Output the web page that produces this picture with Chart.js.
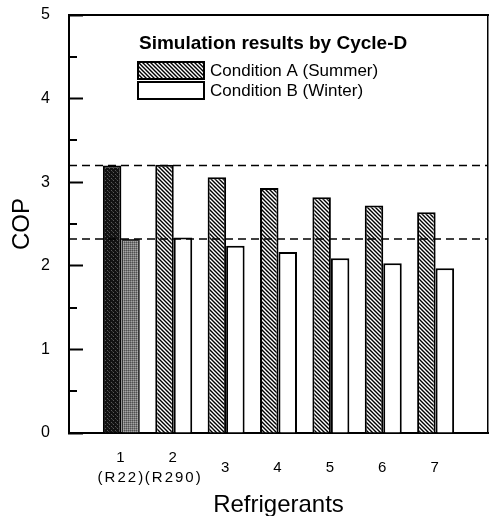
<!DOCTYPE html>
<html><head><meta charset="utf-8">
<script src="https://cdn.jsdelivr.net/npm/chart.js@4"></script>
<style>html,body{margin:0;padding:0;background:#fff}#wrap{width:490px;height:516px}</style>
</head><body><div id="wrap"><canvas id="c" width="490" height="516"></canvas></div>
<script>
// ---- data ----
const categories = ['0', '1', '2', '3', '4', '5', '6', '7', '8'];
const tickLabels = ['', ['1', '(R22)'], ['2', '(R290)'], '3', '4', '5', '6', '7', ''];
const summerCOP = [null, 3.20, 3.21, 3.06, 2.93, 2.82, 2.72, 2.64, null];
const winterCOP = [null, 2.32, 2.34, 2.24, 2.165, 2.09, 2.03, 1.97, null];
const summerRef = 3.20;
const winterRef = 2.32;
const seriesNames = ['Condition A (Summer)', 'Condition B (Winter)'];
const legendTitle = 'Simulation results by Cycle-D';
const baselineIndex = 1; // R22

const FONT = "'Liberation Sans', Arial, Helvetica, sans-serif";
Chart.defaults.font.family = FONT;
Chart.defaults.color = '#000';

function makePattern(size, bg, draw) {
  const c = document.createElement('canvas');
  c.width = size; c.height = size;
  const g = c.getContext('2d');
  g.fillStyle = bg; g.fillRect(0, 0, size, size);
  draw(g, size);
  return document.getElementById('c').getContext('2d').createPattern(c, 'repeat');
}
const hatchPat = makePattern(4, '#fff', (g, s) => {
  g.strokeStyle = '#000'; g.lineWidth = 1.4;
  g.beginPath();
  g.moveTo(-1, -1); g.lineTo(s + 1, s + 1);
  g.moveTo(-1, s - 1); g.lineTo(1, s + 1);
  g.moveTo(s - 1, -1); g.lineTo(s + 1, 1);
  g.stroke();
});
const darkPat = makePattern(4, '#121212', (g) => {
  g.fillStyle = '#5a5a5a'; g.fillRect(1, 0, 1, 1); g.fillRect(3, 2, 1, 1);
  g.fillStyle = '#383838'; g.fillRect(0, 3, 1, 1);
});
const greyPat = makePattern(2, '#7a7a7a', (g) => {
  g.fillStyle = '#505050'; g.fillRect(0, 0, 1, 1); g.fillStyle = '#a4a4a4'; g.fillRect(1, 1, 1, 1);
});

const minorTicks = {
  id: 'minorTicks',
  afterDatasetsDraw(chart) {
    const y = chart.scales.y, ctx = chart.ctx, left = chart.chartArea.left;
    ctx.save(); ctx.strokeStyle = '#000'; ctx.lineWidth = 2;
    for (let v = 0.5; v < 5; v += 1) {
      const py = Math.round(y.getPixelForValue(v));
      ctx.beginPath(); ctx.moveTo(left, py); ctx.lineTo(left + 8, py); ctx.stroke();
    }
    ctx.restore();
  }
};

const innerLegend = {
  id: 'innerLegend',
  afterDraw(chart) {
    const ctx = chart.ctx;
    const x0 = 138, w = 66, h = 17;
    ctx.save();
    ctx.fillStyle = '#000'; ctx.textBaseline = 'middle'; ctx.textAlign = 'left';
    ctx.font = "bold 19px " + FONT;
    ctx.fillText(legendTitle, 139, 44);
    const rows = [{y: 62, fill: hatchPat}, {y: 82, fill: '#fff'}];
    ctx.font = "17px " + FONT;
    rows.forEach((r, i) => {
      ctx.fillStyle = r.fill; ctx.fillRect(x0, r.y, w, h);
      ctx.strokeStyle = '#000'; ctx.lineWidth = 2; ctx.strokeRect(x0, r.y, w, h);
      ctx.fillStyle = '#000'; ctx.fillText(seriesNames[i], 210, r.y + h / 2 + 0.5);
    });
    ctx.restore();
  }
};

function spacedLabels(scale) {
  if (scale._spaced) return;
  scale._spaced = true;
  const orig = scale.drawLabels;
  scale.drawLabels = function (area) {
    const ctx = this.ctx;
    ctx.save();
    if ('letterSpacing' in ctx) ctx.letterSpacing = '2px';
    orig.call(this, area);
    ctx.restore();
  };
}

new Chart(document.getElementById('c'), {
  data: {
    labels: categories,
    datasets: [
      { type: 'bar', label: seriesNames[0], data: summerCOP, order: 1,
        backgroundColor: c => c.dataIndex === baselineIndex ? darkPat : hatchPat,
        borderColor: '#000', borderWidth: 2 },
      { type: 'bar', label: seriesNames[1], data: winterCOP, order: 1,
        backgroundColor: c => c.dataIndex === baselineIndex ? greyPat : '#fff',
        borderColor: c => c.dataIndex === baselineIndex ? '#333' : '#000', borderWidth: 2 },
      { type: 'line', label: 'ref A', data: [{x: '0', y: summerRef}, {x: '8', y: summerRef}], order: 0,
        borderColor: '#000', borderWidth: 1.5, borderDash: [8, 5], pointRadius: 0 },
      { type: 'line', label: 'ref B', data: [{x: '0', y: winterRef}, {x: '8', y: winterRef}], order: 0,
        borderColor: '#000', borderWidth: 1.5, borderDash: [8, 5], pointRadius: 0 }
    ]
  },
  options: {
    responsive: false, animation: false, devicePixelRatio: 1,
    layout: { padding: { top: 15, right: 2, left: 0, bottom: 0 } },
    datasets: { bar: { categoryPercentage: 0.706, barPercentage: 1.0, grouped: true } },
    plugins: { legend: { display: false }, tooltip: { enabled: false } },
    scales: {
      x: {
        type: 'category', offset: false,
        grid: { display: false },
        border: { display: true, color: '#000', width: 2 },
        ticks: { autoSkip: false, maxRotation: 0, padding: 17, crossAlign: 'center',
          font: { size: 15, lineHeight: 1.33 }, color: '#000', callback: (v, i) => tickLabels[i] },
        title: { display: true, text: 'Refrigerants', font: { size: 24, lineHeight: 0.9 }, color: '#000', padding: { top: 0, bottom: 0 } },
        afterFit: s => { s.height = 83; s.paddingLeft = 0; s.paddingRight = 0; spacedLabels(s); }
      },
      y: {
        min: 0, max: 5,
        grid: { drawOnChartArea: false, drawTicks: true, tickLength: -14, tickWidth: 2, tickColor: '#000' },
        border: { display: true, color: '#000', width: 2 },
        ticks: { stepSize: 1, padding: 33, font: { size: 16 }, color: '#000' },
        title: { display: true, text: 'COP', font: { size: 24 }, color: '#000', padding: { top: 8, bottom: 0 } },
        afterFit: s => { s.width = 69; s.paddingTop = 0; s.paddingBottom = 0; }
      },
      x2: { type: 'linear', position: 'top', min: 0, max: 1,
        grid: { display: false, drawTicks: false }, ticks: { display: false },
        border: { display: true, color: '#000', width: 2 },
        afterFit: s => { s.height = 0; } },
      y2: { type: 'linear', position: 'right', min: 0, max: 5,
        grid: { display: false, drawTicks: false }, ticks: { display: false },
        border: { display: true, color: '#000', width: 1.5 },
        afterFit: s => { s.width = 0; } }
    }
  },
  plugins: [minorTicks, innerLegend]
});
</script>
</body></html>
